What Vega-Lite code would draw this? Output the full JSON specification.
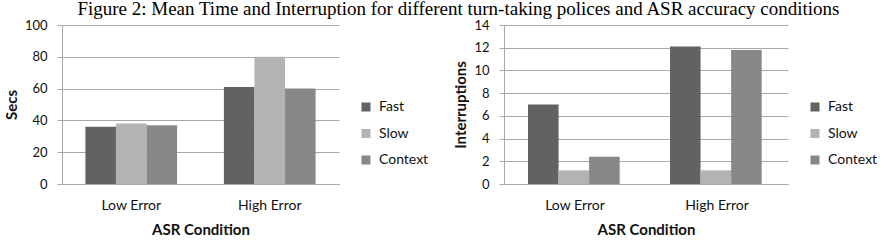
{
  "$schema": "https://vega.github.io/schema/vega-lite/v6.json",
  "background": "white",
  "padding": {"left": 4, "top": 0, "right": 0, "bottom": 0},
  "title": {
    "text": "Figure 2: Mean Time and Interruption for different turn-taking polices and ASR accuracy conditions",
    "font": "Liberation Serif",
    "fontSize": 19,
    "fontWeight": "normal",
    "color": "black",
    "anchor": "start",
    "frame": "bounds",
    "dx": 73,
    "offset": 0
  },
  "datasets": {
    "time": [
      {"condition": "Low Error", "policy": "Fast", "secs": 36},
      {"condition": "Low Error", "policy": "Slow", "secs": 38},
      {"condition": "Low Error", "policy": "Context", "secs": 37},
      {"condition": "High Error", "policy": "Fast", "secs": 61},
      {"condition": "High Error", "policy": "Slow", "secs": 80},
      {"condition": "High Error", "policy": "Context", "secs": 60}
    ],
    "interruptions": [
      {"condition": "Low Error", "policy": "Fast", "count": 7.0},
      {"condition": "Low Error", "policy": "Slow", "count": 1.2},
      {"condition": "Low Error", "policy": "Context", "count": 2.4},
      {"condition": "High Error", "policy": "Fast", "count": 12.1},
      {"condition": "High Error", "policy": "Slow", "count": 1.2},
      {"condition": "High Error", "policy": "Context", "count": 11.8}
    ]
  },
  "spacing": 24,
  "hconcat": [
    {
      "data": {"name": "time"},
      "width": 277,
      "height": 159,
      "mark": {"type": "bar"},
      "encoding": {
        "x": {
          "field": "condition", "type": "nominal",
          "sort": ["Low Error", "High Error"],
          "scale": {"paddingInner": 0.338, "paddingOuter": 0.169},
          "axis": {"title": "ASR Condition", "labelAngle": 0, "ticks": false, "labelPadding": 14, "titlePadding": 10}
        },
        "xOffset": {"field": "policy", "sort": ["Fast", "Slow", "Context"]},
        "y": {
          "field": "secs", "type": "quantitative",
          "scale": {"domain": [0, 100], "nice": false},
          "axis": {"title": "Secs", "values": [0, 20, 40, 60, 80, 100], "grid": true, "titlePadding": 5}
        },
        "color": {
          "field": "policy", "type": "nominal",
          "sort": ["Fast", "Slow", "Context"],
          "scale": {"domain": ["Fast", "Slow", "Context"], "range": ["#626262", "#b3b3b3", "#878787"]},
          "legend": {"title": null, "orient": "none", "legendX": 297, "legendY": 75}
        }
      }
    },
    {
      "data": {"name": "interruptions"},
      "width": 284,
      "height": 159,
      "mark": {"type": "bar"},
      "encoding": {
        "x": {
          "field": "condition", "type": "nominal",
          "sort": ["Low Error", "High Error"],
          "scale": {"paddingInner": 0.338, "paddingOuter": 0.169},
          "axis": {"title": "ASR Condition", "labelAngle": 0, "ticks": false, "labelPadding": 14, "titlePadding": 10}
        },
        "xOffset": {"field": "policy", "sort": ["Fast", "Slow", "Context"]},
        "y": {
          "field": "count", "type": "quantitative",
          "scale": {"domain": [0, 14], "nice": false},
          "axis": {"title": "Interruptions", "values": [0, 2, 4, 6, 8, 10, 12, 14], "grid": true, "titlePadding": 5}
        },
        "color": {
          "field": "policy", "type": "nominal",
          "sort": ["Fast", "Slow", "Context"],
          "scale": {"domain": ["Fast", "Slow", "Context"], "range": ["#626262", "#b3b3b3", "#878787"]},
          "legend": {"title": null, "orient": "none", "legendX": 304, "legendY": 75}
        }
      }
    }
  ],
  "resolve": {"scale": {"color": "independent"}, "legend": {"color": "independent"}},
  "config": {
    "view": {"stroke": null},
    "axis": {
      "labelFont": "Lato",
      "labelFontSize": 14,
      "labelColor": "#111111",
      "titleFont": "Lato",
      "titleFontSize": 15,
      "titleFontWeight": "bold",
      "titleColor": "#111111",
      "domainColor": "#a8a8a8",
      "gridColor": "#a8a8a8",
      "tickColor": "#a8a8a8",
      "gridOpacity": 1
    },
    "axisY": {"tickSize": 5, "labelPadding": 10, "labelFontSize": 13},
    "legend": {
      "labelFont": "Lato",
      "labelFontSize": 14,
      "labelColor": "#111111",
      "symbolType": "square",
      "symbolSize": 81,
      "symbolStrokeWidth": 0,
      "rowPadding": 12.5,
      "labelOffset": 6,
      "padding": 0
    }
  }
}
